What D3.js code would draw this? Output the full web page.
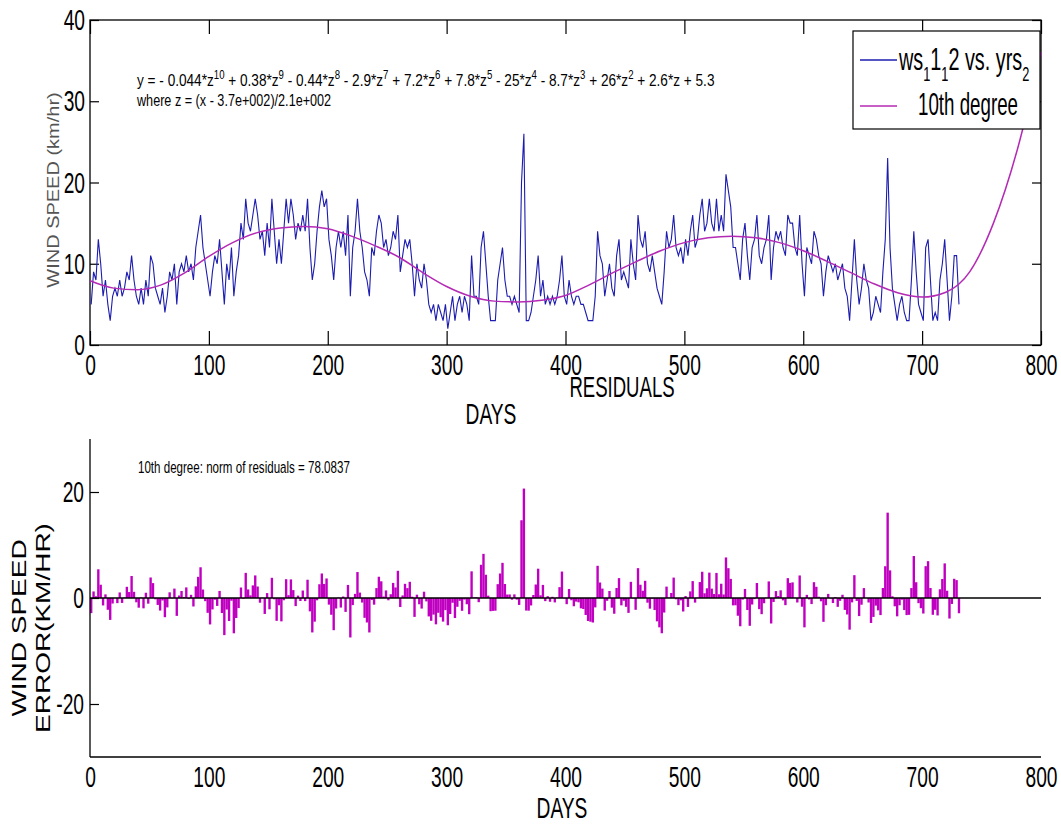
<!DOCTYPE html>
<html>
<head>
<meta charset="utf-8">
<title>Wind speed - 10th degree fit</title>
<script src="https://cdn.jsdelivr.net/npm/d3@7"></script>
<style>
  body { margin: 0; background: #fff; }
  svg { display: block; }
</style>
</head>
<body>
<svg id="chart" width="1061" height="828"></svg>
<script>
// DATA
// daily wind speed, read every second day (day 1, 3, 5 ... 731)
const firstDay = 1;
const dayStep = 2;
const windSpeed = [
  5, 9, 8, 13, 10,   6, 8, 5, 3, 6,     7, 6, 8, 6, 7,     9, 8, 11, 8, 6,
  5, 7, 5, 8, 6,     11, 10, 7, 6, 5,   7, 4, 6, 9, 8,     10, 5, 9, 10, 9,
  11, 9, 10, 8, 12,  14, 16, 12, 10, 8, 6, 9, 11, 10, 13,  9, 5, 10, 8, 12,
  6, 9, 11, 15, 13,  18, 15, 14, 16, 18, 16, 13, 14, 11, 15, 12, 18, 14, 10, 13,
  10, 14, 18, 15, 18, 16, 13, 15, 14, 16, 14, 18, 12, 8, 10, 14, 17, 19, 17, 18,
  13, 11, 8, 12, 14, 12, 14, 11, 16, 6, 12, 14, 18, 14, 12, 9, 8, 6, 12, 11,
  14, 16, 15, 12, 13, 11, 12, 14, 13, 16, 9, 11, 13, 12, 13, 10, 6, 10, 8, 7,
  10, 8, 5, 4, 5,    3, 5, 4, 3, 5,     2, 4, 6, 3, 5,     6, 4, 6, 5, 3,
  11, 6, 6, 5, 12,   14, 10, 6, 3, 3,   3, 8, 10, 12, 8,   6, 6, 5, 6, 5,
  4, 20, 26, 3, 3,   4, 6, 8, 11, 6,    8, 5, 6, 5, 6,     5, 6, 8, 11, 6,
  5, 8, 6, 5, 6,     6, 5, 5, 4, 3,     3, 3, 6, 14, 11,   10, 6, 8, 10, 7,
  6, 11, 13, 8, 9,   8, 7, 13, 10, 8,   16, 13, 12, 14, 10, 9, 11, 9, 7, 6,
  5, 9, 14, 12, 13,  16, 12, 11, 12, 10, 13, 11, 14, 16, 12, 13, 16, 18, 14, 15,
  18, 15, 14, 18, 14, 16, 14, 21, 19, 17, 12, 12, 10, 8, 13, 15, 11, 8, 12, 13,
  16, 11, 10, 12, 13, 16, 8, 12, 14, 13, 14, 12, 11, 16, 15, 15, 12, 11, 16, 10,
  6, 12, 11, 10, 14, 13, 11, 10, 6, 9,  11, 10, 9, 10, 8,  9, 10, 7, 6, 3,
  8, 13, 8, 5, 7,    10, 8, 7, 3, 4,    6, 5, 4, 9, 13,    23, 12, 7, 5, 3,
  5, 6, 4, 3, 3,     8, 14, 9, 5, 4,    3, 12, 13, 8, 3,   4, 3, 8, 10, 13,
  8, 3, 6, 11, 11,   5
];

// 10th degree fit
const fitDays   = [0, 20, 40, 60, 80, 100, 120, 140, 160, 180, 200, 220, 240, 260, 280, 300, 320, 340, 360, 380,
                   400, 420, 440, 460, 480, 500, 520, 540, 560, 580, 600, 620, 640, 660, 680, 700, 720, 740, 760, 780, 800];
const fitValues = [7.9, 7.0, 6.8, 7.4, 8.9, 10.9, 12.6, 13.8, 14.4, 14.6, 14.3, 13.4, 12.2, 10.8, 8.9, 7.2, 6.0, 5.4, 5.3, 5.5,
                   6.1, 7.4, 8.9, 10.3, 11.6, 12.6, 13.2, 13.4, 13.2, 12.6, 11.6, 10.3, 8.9, 7.5, 6.4, 5.9, 6.5, 9.0, 15.0, 24.0, 36.0];

const xTicks       = [0, 100, 200, 300, 400, 500, 600, 700, 800];
const yTicksTop    = [0, 10, 20, 30, 40];
const yTicksBottom = [-20, 0, 20];

// text pieces: [text, superscript]
const equationParts = [
  ['y = - 0.044*z', '10'], [' + 0.38*z', '9'], [' - 0.44*z', '8'], [' - 2.9*z', '7'],
  [' + 7.2*z', '6'], [' + 7.8*z', '5'], [' - 25*z', '4'], [' - 8.7*z', '3'],
  [' + 26*z', '2'], [' + 2.6*z + 5.3', null]
];
const equationWhere = 'where z = (x - 3.7e+002)/2.1e+002';
// legend label pieces: [text, subscript]
const legendDataParts = [['ws', '1'], ['1', '1'], ['2 vs. yrs', '2']];
const legendFitLabel = '10th degree';
const normOfResiduals = '78.0837';

const wsDays = windSpeed.map((v, i) => firstDay + i * dayStep);

// LAYOUT
const FONT = '"Liberation Sans", Arial, Helvetica, sans-serif';
const SX = 0.64;     // glyphs in the picture are squeezed sideways
const BLUE = '#1c1cb0';
const MAGENTA = '#b42ab4';
const BAR = '#c000c0';

const pTop = { left: 90, right: 1041, top: 20, bottom: 345 };
const pBot = { left: 90, right: 1041, top: 439, bottom: 757 };

const svg = d3.select('#chart');

const x1 = d3.scaleLinear().domain([0, 800]).range([pTop.left, pTop.right]);
const y1 = d3.scaleLinear().domain([0, 40]).range([pTop.bottom, pTop.top]);
const x2 = d3.scaleLinear().domain([0, 800]).range([pBot.left, pBot.right]);
const y2 = d3.scaleLinear().domain([-30, 30]).range([pBot.bottom, pBot.top]);

// fit as a piecewise scale, used for the residuals
const fitAt = d3.scaleLinear().domain(fitDays).range(fitValues);
const residuals = wsDays.map((d, i) => ({ day: d, r: windSpeed[i] - fitAt(d) }));

const plain = d => String(d);

function axisStyle(g, size) {
  g.attr('font-family', FONT).attr('font-size', size);
  g.select('.domain').remove();
  g.selectAll('line').attr('stroke', '#000').attr('stroke-width', 1.2);
  g.selectAll('text').attr('fill', '#000');
}

// squeeze a text so it covers the given width
function fitText(t, x, y, width) {
  const w = t.node().getBBox().width;
  t.attr('transform', `translate(${x},${y}) scale(${width / w},1)`);
}

// pieces with a raised (shift < 0) or lowered (shift > 0) small part
function shiftedText(t, parts, smallSize, shift) {
  let cur = 0;
  parts.forEach(([s, p]) => {
    t.append('tspan').attr('dy', -cur).text(s);
    cur = 0;
    if (p) {
      t.append('tspan').attr('font-size', smallSize).attr('dy', shift).text(p);
      cur = shift;
    }
  });
}

// ---------- TOP PLOT ----------
const gx1 = svg.append('g')
  .attr('transform', `translate(0,${pTop.bottom})`)
  .call(d3.axisBottom(x1).tickValues(xTicks).tickSize(-14).tickPadding(9).tickFormat(plain));
axisStyle(gx1, 30);
gx1.selectAll('text').attr('transform', `scale(${SX},1)`);

const gx1t = svg.append('g')
  .attr('transform', `translate(0,${pTop.top})`)
  .call(d3.axisTop(x1).tickValues(xTicks).tickSize(-14).tickFormat(''));
axisStyle(gx1t, 30);

const gy1 = svg.append('g')
  .attr('transform', `translate(${pTop.left},0)`)
  .call(d3.axisLeft(y1).tickValues(yTicksTop).tickSize(-9).tickFormat(plain));
axisStyle(gy1, 30);
gy1.selectAll('text').attr('x', -5 / SX).attr('transform', `scale(${SX},1)`);

const gy1r = svg.append('g')
  .attr('transform', `translate(${pTop.right},0)`)
  .call(d3.axisRight(y1).tickValues(yTicksTop).tickSize(-9).tickFormat(''));
axisStyle(gy1r, 30);

svg.append('rect')
  .attr('x', pTop.left).attr('y', pTop.top)
  .attr('width', pTop.right - pTop.left).attr('height', pTop.bottom - pTop.top)
  .attr('fill', 'none').attr('stroke', '#000').attr('stroke-width', 1.3);

const wsLine = d3.line().x(d => x1(d[0])).y(d => y1(d[1]));
svg.append('path')
  .datum(d3.zip(wsDays, windSpeed))
  .attr('d', wsLine)
  .attr('fill', 'none').attr('stroke', BLUE).attr('stroke-width', 1.1);

const fitLine = d3.line().x(d => x1(d[0])).y(d => y1(d[1])).curve(d3.curveMonotoneX);
svg.append('path')
  .datum(d3.zip(fitDays, fitValues))
  .attr('d', fitLine)
  .attr('fill', 'none').attr('stroke', MAGENTA).attr('stroke-width', 1.5);

// equation
const eq1 = svg.append('text').attr('font-family', FONT).attr('font-size', 17).attr('fill', '#000');
shiftedText(eq1, equationParts, 12, -7);
fitText(eq1, 137, 86, 578);
const eq2 = svg.append('text').attr('font-family', FONT).attr('font-size', 17).attr('fill', '#000').text(equationWhere);
fitText(eq2, 137, 106, 195);

// legend
const legend = svg.append('g');
legend.append('rect')
  .attr('x', 853).attr('y', 31).attr('width', 187).attr('height', 98)
  .attr('fill', '#fff').attr('stroke', '#000').attr('stroke-width', 1.2);
legend.append('line').attr('x1', 860).attr('x2', 897).attr('y1', 60).attr('y2', 60)
  .attr('stroke', BLUE).attr('stroke-width', 1.5);
legend.append('line').attr('x1', 860).attr('x2', 897).attr('y1', 106).attr('y2', 106)
  .attr('stroke', MAGENTA).attr('stroke-width', 1.5);
const lg1 = legend.append('text').attr('font-family', FONT).attr('font-size', 31);
shiftedText(lg1, legendDataParts, 20, 11);
fitText(lg1, 899, 70, 131);
const lg2 = legend.append('text').attr('font-family', FONT).attr('font-size', 31).text(legendFitLabel);
fitText(lg2, 918, 115, 100);

// axis titles
svg.append('text')
  .attr('font-family', FONT).attr('font-size', 30).attr('text-anchor', 'middle')
  .attr('transform', `translate(491,424) scale(${SX},1)`).text('DAYS');
svg.append('text')
  .attr('font-family', FONT).attr('font-size', 29).attr('text-anchor', 'middle')
  .attr('transform', `translate(622,397) scale(${SX},1)`).text('RESIDUALS');
svg.append('text')
  .attr('font-family', FONT).attr('font-size', 20).attr('text-anchor', 'middle')
  .attr('fill', '#555').attr('dy', '0.35em')
  .attr('transform', 'translate(53,190) scale(0.85,1) rotate(-90)').text('WIND SPEED (km/hr)');

// ---------- BOTTOM PLOT ----------
svg.append('g')
  .selectAll('rect')
  .data(residuals)
  .join('rect')
    .attr('x', d => x2(d.day - dayStep / 2))
    .attr('width', x2(dayStep) - x2(0))
    .attr('y', d => y2(Math.max(0, d.r)))
    .attr('height', d => Math.abs(y2(d.r) - y2(0)))
    .attr('fill', BAR);

svg.append('line')
  .attr('x1', pBot.left).attr('x2', pBot.right)
  .attr('y1', y2(0)).attr('y2', y2(0))
  .attr('stroke', '#000').attr('stroke-width', 1.4);

const gx2 = svg.append('g')
  .attr('transform', `translate(0,${pBot.bottom})`)
  .call(d3.axisBottom(x2).tickValues(xTicks).tickSize(0).tickPadding(9).tickFormat(plain));
axisStyle(gx2, 30);
gx2.selectAll('text').attr('transform', `scale(${SX},1)`);

const gy2 = svg.append('g')
  .attr('transform', `translate(${pBot.left},0)`)
  .call(d3.axisLeft(y2).tickValues(yTicksBottom).tickSize(-9).tickFormat(plain));
axisStyle(gy2, 30);
gy2.selectAll('text').attr('x', -6 / SX).attr('transform', `scale(${SX},1)`);

svg.append('line')
  .attr('x1', pBot.left).attr('x2', pBot.right)
  .attr('y1', pBot.bottom).attr('y2', pBot.bottom)
  .attr('stroke', '#000').attr('stroke-width', 1.3);
svg.append('line')
  .attr('x1', pBot.left).attr('x2', pBot.left)
  .attr('y1', pBot.top).attr('y2', pBot.bottom)
  .attr('stroke', '#000').attr('stroke-width', 1.3);

const norm = svg.append('text').attr('font-family', FONT).attr('font-size', 17)
  .text('10th degree: norm of residuals = ' + normOfResiduals);
fitText(norm, 138, 473, 212);

svg.append('text')
  .attr('font-family', FONT).attr('font-size', 30).attr('text-anchor', 'middle')
  .attr('transform', `translate(562,818) scale(${SX},1)`).text('DAYS');

svg.append('text')
  .attr('font-family', FONT).attr('font-size', 28).attr('text-anchor', 'middle').attr('dy', '0.35em')
  .attr('transform', 'translate(19,628) scale(0.75,1) rotate(-90)').text('WIND SPEED');
svg.append('text')
  .attr('font-family', FONT).attr('font-size', 28).attr('text-anchor', 'middle').attr('dy', '0.35em')
  .attr('transform', 'translate(43,628) scale(0.75,1) rotate(-90)').text('ERROR(KM/HR)');
</script>
</body>
</html>
